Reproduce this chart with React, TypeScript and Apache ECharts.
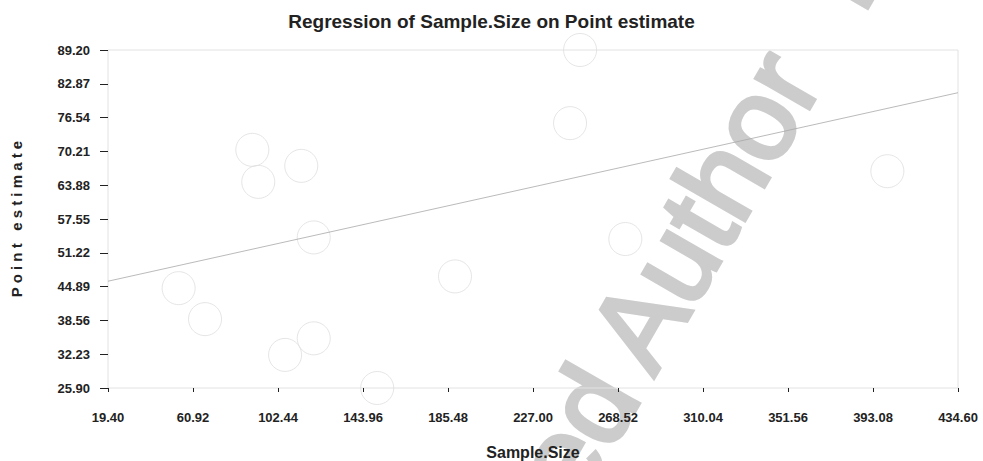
import React, { useEffect, useRef } from "react";
import * as echarts from "echarts";

const titleText = "Regression of Sample.Size on Point estimate";
const xName = "Sample.Size";
const yName = "P o i n t   e s t i m a t e";

// Sample.Size values
const sampleSize = [53.9, 66.8, 89.9, 92.8, 113.8, 119.9, 105.9, 119.9, 150.9, 188.9, 250.0, 245.1, 272.1, 400.1];
// Point estimate values
const pointEstimate = [44.6, 38.8, 70.5, 64.5, 67.5, 54.1, 32.1, 35.2, 25.9, 46.8, 89.2, 75.5, 53.8, 66.5];

// regression line end points [x, y]
const regressionX = [19.4, 434.6];
const regressionY = [45.9, 81.2];

const xMin = 19.4;
const xMax = 434.6;
const xStep = 41.52;
const yMin = 25.9;
const yMax = 89.2;
const yStep = 6.33;

const watermarkBefore = "Accepted";
const watermarkMain = "Author";
const watermarkAfter = "Manuscript";

export default function App() {
  const ref = useRef<HTMLDivElement>(null);
  useEffect(() => {
    if (!ref.current) return;
    const chart = echarts.init(ref.current, null, { renderer: "svg" });
    const font = "Liberation Sans, Arial, Helvetica, sans-serif";
    const ang = Math.PI / 3;
    const wmX = 619;
    const wmY = 358;
    const gapBefore = 22;
    const gapAfter = 418;
    const c = Math.cos(ang);
    const s = Math.sin(ang);
    const wmStyle = {
      fill: "#cccccc",
      stroke: "#cccccc",
      lineWidth: 4,
      font: "116px " + font,
      textVerticalAlign: "middle",
    };
    chart.setOption({
      animation: false,
      backgroundColor: "#ffffff",
      title: {
        text: titleText,
        left: "center",
        top: 7,
        textStyle: { fontFamily: font, fontWeight: "bold", fontSize: 19, color: "#222222" },
      },
      graphic: [
        {
          type: "text",
          z: -10,
          x: wmX,
          y: wmY,
          rotation: ang,
          style: { ...wmStyle, text: watermarkMain, textAlign: "left" },
        },
        {
          type: "text",
          z: -10,
          x: wmX - gapBefore * c,
          y: wmY + gapBefore * s,
          rotation: ang,
          style: { ...wmStyle, text: watermarkBefore, textAlign: "right" },
        },
        {
          type: "text",
          z: -10,
          x: wmX + gapAfter * c,
          y: wmY - gapAfter * s,
          rotation: ang,
          style: { ...wmStyle, text: watermarkAfter, textAlign: "left" },
        },
      ],
      grid: {
        left: 108,
        right: 25,
        top: 50,
        bottom: 73,
        outerBoundsMode: "none",
        containLabel: false,
        show: true,
        borderColor: "#e2e2e2",
        borderWidth: 1,
        backgroundColor: "transparent",
      },
      xAxis: {
        type: "value",
        min: xMin,
        max: xMax,
        interval: xStep,
        name: xName,
        nameLocation: "middle",
        nameGap: 56,
        nameTextStyle: { fontFamily: font, fontWeight: "bold", fontSize: 16, color: "#222222" },
        axisLine: { show: false },
        axisTick: { show: true, length: 4, lineStyle: { color: "#222222", width: 1 } },
        splitLine: { show: false },
        axisLabel: {
          margin: 23,
          fontFamily: font,
          fontWeight: "bold",
          fontSize: 13,
          color: "#222222",
          formatter: (v: number) => v.toFixed(2),
        },
      },
      yAxis: {
        type: "value",
        min: yMin,
        max: yMax,
        interval: yStep,
        name: yName,
        nameLocation: "middle",
        nameGap: 84,
        nameTextStyle: { fontFamily: font, fontWeight: "bold", fontSize: 15, color: "#222222" },
        axisLine: { show: false },
        axisTick: { show: true, length: 8, lineStyle: { color: "#222222", width: 1 } },
        splitLine: { show: false },
        axisLabel: {
          margin: 18,
          fontFamily: font,
          fontWeight: "bold",
          fontSize: 13,
          color: "#222222",
          formatter: (v: number) => v.toFixed(2),
        },
      },
      series: [
        {
          type: "scatter",
          clip: false,
          symbol: "circle",
          symbolSize: 33,
          itemStyle: { color: "rgba(255,255,255,0)", borderColor: "#dedede", borderWidth: 1 },
          data: sampleSize.map((x, i) => [x, pointEstimate[i]]),
          z: 3,
        },
        {
          type: "line",
          symbol: "none",
          lineStyle: { color: "#a8a8a8", width: 0.8 },
          data: regressionX.map((x, i) => [x, regressionY[i]]),
          z: 4,
        },
      ],
    });
    return () => chart.dispose();
  }, []);
  return (
    <div
      ref={ref}
      style={{ position: "fixed", left: 0, top: 0, width: 983, height: 461 }}
    />
  );
}
